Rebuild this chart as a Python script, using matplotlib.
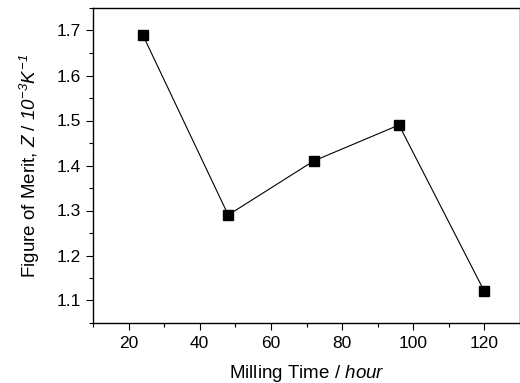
import matplotlib
matplotlib.use('Agg')
import matplotlib.pyplot as plt
from matplotlib.ticker import MultipleLocator

plt.rcParams['font.family'] = ['Liberation Sans', 'DejaVu Sans']
plt.rcParams['mathtext.fontset'] = 'custom'
plt.rcParams['mathtext.rm'] = 'Liberation Sans:italic'
plt.rcParams['mathtext.it'] = 'Liberation Sans:italic'

# data
milling_time = [24, 48, 72, 96, 120]
merit = [1.69, 1.29, 1.41, 1.49, 1.12]

fig = plt.figure(figsize=(5.2, 3.83), dpi=100)
ax = fig.add_axes([93/520, 1 - 323/383, (520 - 93)/520, (323 - 8)/383])

ax.plot(milling_time, merit, color='black', linewidth=0.8,
        marker='s', markersize=7, markerfacecolor='black', markeredgecolor='black')

ax.set_xlim(10, 130)
ax.set_ylim(1.05, 1.75)
ax.xaxis.set_major_locator(MultipleLocator(20))
ax.xaxis.set_minor_locator(MultipleLocator(10))
ax.yaxis.set_major_locator(MultipleLocator(0.1))
ax.yaxis.set_minor_locator(MultipleLocator(0.05))
ax.tick_params(which='major', direction='out', length=5, width=0.8, labelsize=12.5, pad=4)
ax.tick_params(which='minor', direction='out', length=3, width=0.8)
for s in ax.spines.values():
    s.set_linewidth(1.0)

ax.set_xlabel(r'Milling Time / $hour$', fontsize=13.5, labelpad=9)
ax.set_ylabel(r'Figure of Merit, $Z$ / $10^{-3}K^{-1}$', fontsize=13.5, labelpad=10)

fig.savefig('out.png', dpi=100)
